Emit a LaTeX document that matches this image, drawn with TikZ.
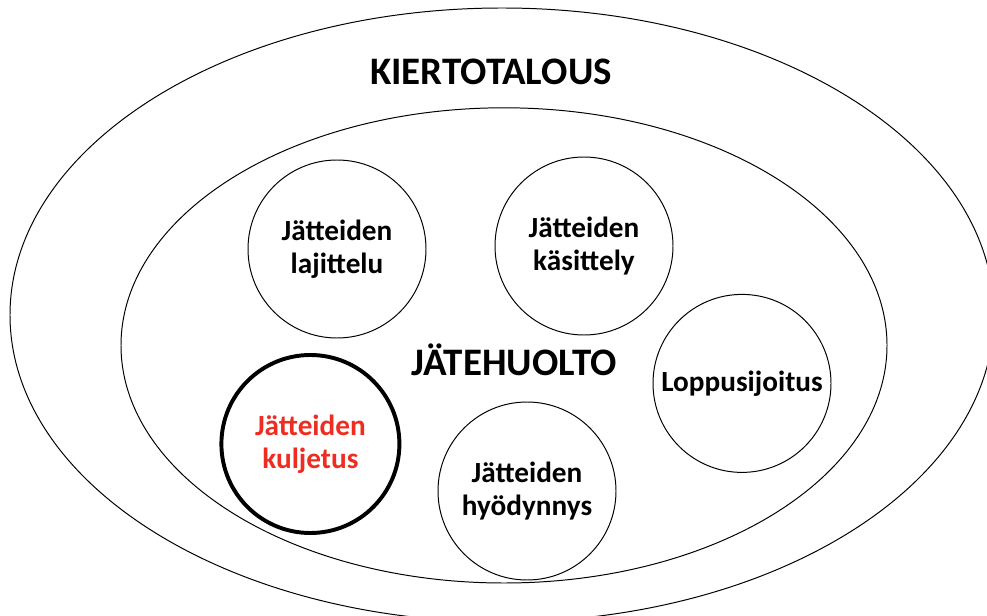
\documentclass[tikz,border=0pt]{standalone}
\usepackage{fontspec}
\setmainfont{Carlito}
\usetikzlibrary{shapes.geometric}
\definecolor{alertred}{RGB}{238,44,32}

\begin{document}
\begin{tikzpicture}[
    area/.style={draw,ellipse,line width=0.7pt,inner sep=0pt},
    task/.style={draw,circle,line width=0.7pt,minimum size=4.45cm,inner sep=0pt,align=center,font=\fontsize{20.8}{23.5}\selectfont\bfseries},
    title/.style={anchor=base,font=\fontsize{27.7}{33}\selectfont\bfseries}
  ]
    \useasboundingbox (0,0) rectangle (24.675,15.375);
    \clip (0,0) rectangle (24.675,15.375);

    % Nested areas
    \node[area,minimum width=24.6cm,minimum height=15.35cm] (economy) at (12.55,7.5) {};
    \node[area,minimum width=19.15cm,minimum height=11.88cm] (management) at (12.6,6.74) {};

    % Area titles
    \node[title] (economytitle) at (12.275,13.25) {KIERTOTALOUS};
    \node[title] (managementtitle) at (12.85,6.0) {JÄTEHUOLTO};

    % Waste management tasks
    \node[task] (sorting) at (8.425,9.15) {Jätteiden\\lajittelu};
    \node[task] (treatment) at (14.6,9.225) {Jätteiden\\käsittely};
    \node[task] (disposal) at (18.55,5.79) {Loppusijoitus};
    \node[task,line width=2.8pt,text=alertred] (transport) at (7.76,4.275) {Jätteiden\\kuljetus};
    \node[task] (recovery) at (13.175,3.1) {Jätteiden\\hyödynnys};
  \end{tikzpicture}
\end{document}
